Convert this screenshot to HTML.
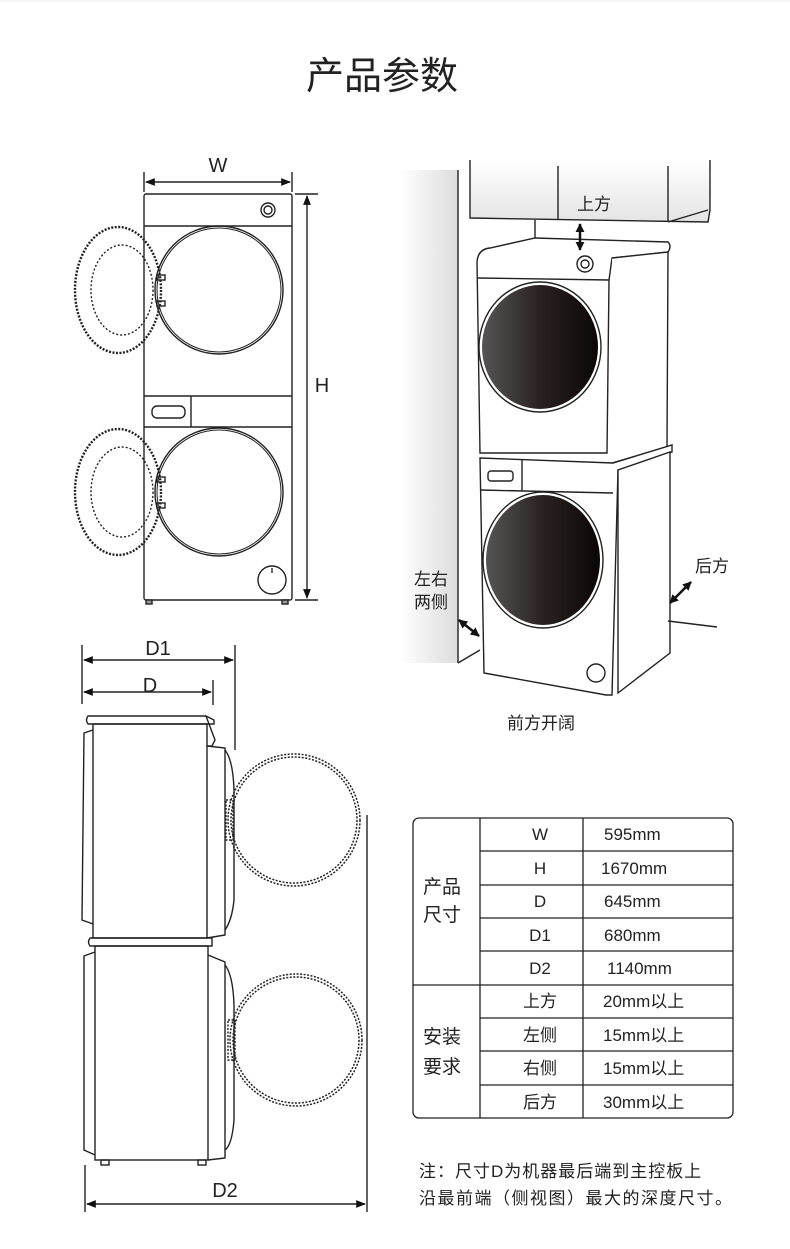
<!DOCTYPE html>
<html><head><meta charset="utf-8"><style>
html,body{margin:0;padding:0;background:#fff;}
body{width:790px;height:1249px;position:relative;overflow:hidden;font-family:"Liberation Sans","Noto Sans CJK SC",sans-serif;}
svg{position:absolute;left:0;top:0;}
text{font-family:"Liberation Sans","Noto Sans CJK SC",sans-serif;fill:#222;}
</style></head><body>
<svg width="790" height="1249" viewBox="0 0 790 1249" xmlns="http://www.w3.org/2000/svg">
<defs>
<marker id="ar" viewBox="0 0 10 10" refX="9" refY="5" markerWidth="7" markerHeight="7" orient="auto-start-reverse"><path d="M0,1 L10,5 L0,9 z" fill="#111"/></marker>
<marker id="ab" viewBox="0 0 10 10" refX="9" refY="5" markerUnits="userSpaceOnUse" markerWidth="9" markerHeight="9" orient="auto-start-reverse"><path d="M0,0 L10,5 L0,10 z" fill="#111"/></marker>
<linearGradient id="dk" x1="0" x2="1"><stop offset="0" stop-color="#555"/><stop offset="0.5" stop-color="#2a2222"/><stop offset="1" stop-color="#0b0606"/></linearGradient>
<linearGradient id="cab" x1="0" y1="0" x2="0" y2="1"><stop offset="0" stop-color="#fff"/><stop offset="1" stop-color="#e4e4e4"/></linearGradient>
<linearGradient id="wall" x1="0" x2="1"><stop offset="0" stop-color="#fff"/><stop offset="1" stop-color="#dcdcdc"/></linearGradient>
</defs>
<line x1="0" y1="1" x2="790" y2="1" stroke="#eee"/>
<text x="382" y="89" font-size="38" text-anchor="middle" fill="#222">产品参数</text>

<!-- FRONT VIEW -->
<g stroke="#222" fill="none" stroke-width="1.4">
<line x1="144" y1="172" x2="144" y2="192"/><line x1="292" y1="172" x2="292" y2="192"/>
<line x1="146" y1="182" x2="290" y2="182" marker-start="url(#ar)" marker-end="url(#ar)"/>
<rect x="144" y="194" width="148" height="406" rx="2"/>
<line x1="144" y1="226" x2="292" y2="226"/>
<circle cx="268" cy="210" r="7"/><circle cx="268" cy="210" r="4"/>
<circle cx="219" cy="290" r="64"/><circle cx="219" cy="290" r="62" stroke-width="1"/>
<ellipse cx="118" cy="290" rx="43" ry="63" stroke-dasharray="2 1.5" stroke-width="2.4"/>
<ellipse cx="122" cy="290" rx="31" ry="45" stroke-dasharray="2 2" stroke-width="1.4"/>
<rect x="157" y="275" width="8" height="5"/><rect x="157" y="301" width="8" height="5"/>
<line x1="144" y1="396" x2="292" y2="396"/><line x1="144" y1="427" x2="292" y2="427"/>
<line x1="191" y1="396" x2="191" y2="427"/>
<rect x="152" y="406" width="33" height="12" rx="5"/>
<circle cx="219" cy="492" r="64"/><circle cx="219" cy="492" r="62" stroke-width="1"/>
<ellipse cx="118" cy="492" rx="43" ry="63" stroke-dasharray="2 1.5" stroke-width="2.4"/>
<ellipse cx="122" cy="492" rx="31" ry="45" stroke-dasharray="2 2" stroke-width="1.4"/>
<rect x="157" y="477" width="8" height="5"/><rect x="157" y="503" width="8" height="5"/>
<circle cx="272" cy="580" r="14"/><line x1="272" y1="568" x2="272" y2="573"/>
<rect x="146" y="600" width="6" height="4" fill="#999"/><rect x="282" y="600" width="6" height="4" fill="#999"/>
<line x1="295" y1="194" x2="318" y2="194"/><line x1="295" y1="600" x2="318" y2="600"/>
<line x1="307" y1="196" x2="307" y2="598" marker-start="url(#ar)" marker-end="url(#ar)"/>
</g>
<text x="218" y="172" font-size="20" text-anchor="middle">W</text>
<text x="322" y="392" font-size="20" text-anchor="middle">H</text>

<!-- PERSPECTIVE VIEW -->
<g stroke="#222" stroke-width="1.4">
<path d="M400,170 L458,170 L458,663 L400,663 z" fill="url(#wall)" stroke="none"/>
<line x1="458" y1="170" x2="458" y2="663"/>
<line x1="458" y1="663" x2="480" y2="650"/>
<path d="M470,160 L470,218 L708,222 L710,210 L710,160" fill="url(#cab)"/>
<line x1="558" y1="166" x2="558" y2="220"/><line x1="668" y1="166" x2="668" y2="222"/>
<line x1="668" y1="222" x2="708" y2="210"/>
<line x1="535" y1="220" x2="535" y2="238"/>
<path d="M477,262 Q478,249 490,248 L535,238 L668,242 Q672,246 668,252 L612,258 L609,280 L607,453 L480,453 z" fill="#fff"/>
<path d="M612,258 L668,252 L667,447 L612,463" fill="#fff"/>
<line x1="478" y1="278" x2="609" y2="280"/>
<circle cx="585" cy="264" r="8" fill="#fff"/><circle cx="585" cy="264" r="4" fill="#fff"/>
<ellipse cx="540" cy="347" rx="61" ry="65" fill="#fff"/>
<ellipse cx="540" cy="347" rx="58" ry="62" fill="url(#dk)" stroke="none"/>
<path d="M480,458 L613,463 L672,445 L672,452 L618,470 L612,695 L606,695 L484,673 z" fill="#fff"/>
<path d="M618,470 L670,452 L670,653 L618,693 z" fill="#fff"/>
<line x1="480" y1="490" x2="613" y2="493"/><line x1="522" y1="459" x2="522" y2="491"/>
<rect x="488" y="471" width="25" height="10" rx="3" fill="#fff"/>
<ellipse cx="543" cy="560" rx="60" ry="68" fill="#fff"/>
<ellipse cx="543" cy="560" rx="57" ry="65" fill="url(#dk)" stroke="none"/>
<circle cx="596" cy="673" r="9" fill="#fff"/>
<line x1="668" y1="621" x2="717" y2="627"/>
</g>
<g stroke="#111" stroke-width="2.5" fill="none">
<line x1="580" y1="224" x2="580" y2="250" marker-start="url(#ab)" marker-end="url(#ab)"/>
<line x1="459" y1="620" x2="479" y2="636" marker-start="url(#ab)" marker-end="url(#ab)"/>
<line x1="670" y1="603" x2="691" y2="582" marker-start="url(#ab)" marker-end="url(#ab)"/>
</g>
<text x="594" y="210" font-size="17" text-anchor="middle">上方</text>
<text x="431" y="585" font-size="17" text-anchor="middle">左右</text>
<text x="431" y="608" font-size="17" text-anchor="middle">两侧</text>
<text x="712" y="572" font-size="17" text-anchor="middle">后方</text>
<text x="541" y="729" font-size="17" text-anchor="middle">前方开阔</text>

<!-- SIDE VIEW -->
<g stroke="#222" stroke-width="1.4" fill="none">
<line x1="82" y1="645" x2="82" y2="704"/><line x1="235" y1="645" x2="235" y2="750"/><line x1="213" y1="680" x2="213" y2="705"/>
<line x1="84" y1="660" x2="233" y2="660" marker-start="url(#ar)" marker-end="url(#ar)"/>
<line x1="84" y1="692" x2="211" y2="692" marker-start="url(#ar)" marker-end="url(#ar)"/>
<path d="M88,716 L206,716 L214,720 L214,724 L88,724 Q85,720 88,716 z"/>
<path d="M206,716 L215,740 L212,746 L207,746"/>
<rect x="93" y="724" width="114" height="214"/>
<path d="M93,730 L84,733 L82,920 L93,924"/>
<path d="M207,746 L225,748 L225,935 L207,938"/>
<path d="M225,750 Q233,760 234,790 L234,900 Q232,920 225,930"/>
<path d="M90,938 L212,938 L212,946 L90,946 Q87,942 90,938 z"/>
<rect x="95" y="946" width="113" height="214"/>
<path d="M95,952 L84,956 L84,1150 L95,1155"/>
<path d="M208,955 L225,962 L225,1158 L208,1160"/>
<path d="M225,965 Q233,975 234,1005 L234,1120 Q232,1145 225,1150"/>
<rect x="101" y="1160" width="8" height="5"/><rect x="198" y="1160" width="8" height="5"/>
<circle cx="294" cy="820" r="66" stroke-dasharray="2 1.5" stroke-width="1.5"/>
<circle cx="294" cy="820" r="63" stroke-dasharray="2 1.5" stroke-width="1.5"/>
<circle cx="296" cy="1040" r="66" stroke-dasharray="2 1.5" stroke-width="1.5"/>
<circle cx="296" cy="1040" r="63" stroke-dasharray="2 1.5" stroke-width="1.5"/>
<rect x="226" y="800" width="7" height="40" stroke-dasharray="2 1.5"/>
<rect x="228" y="1020" width="7" height="40" stroke-dasharray="2 1.5"/>
<line x1="85" y1="1165" x2="85" y2="1212"/><line x1="367" y1="815" x2="367" y2="1212"/>
<line x1="87" y1="1204" x2="365" y2="1204" marker-start="url(#ar)" marker-end="url(#ar)"/>
</g>
<text x="158" y="655" font-size="20" text-anchor="middle">D1</text>
<text x="150" y="692" font-size="20" text-anchor="middle">D</text>
<text x="225" y="1197" font-size="20" text-anchor="middle">D2</text>

<!-- TABLE -->
<g stroke="#222" stroke-width="1.3" fill="none">
<rect x="413" y="818" width="320" height="300" rx="6"/>
<line x1="480" y1="818" x2="480" y2="1118"/><line x1="583" y1="818" x2="583" y2="1118"/>
<line x1="480" y1="851" x2="733" y2="851"/><line x1="480" y1="885" x2="733" y2="885"/>
<line x1="480" y1="918" x2="733" y2="918"/><line x1="480" y1="951" x2="733" y2="951"/>
<line x1="413" y1="985" x2="733" y2="985"/>
<line x1="480" y1="1018" x2="733" y2="1018"/><line x1="480" y1="1051" x2="733" y2="1051"/>
<line x1="480" y1="1085" x2="733" y2="1085"/>
</g>
<g font-size="17">
<text x="442" y="893" font-size="19" text-anchor="middle">产品</text>
<text x="442" y="921" font-size="19" text-anchor="middle">尺寸</text>
<text x="442" y="1043" font-size="19" text-anchor="middle">安装</text>
<text x="442" y="1073" font-size="19" text-anchor="middle">要求</text>
<text x="540" y="840" text-anchor="middle">W</text>
<text x="540" y="874" text-anchor="middle">H</text>
<text x="540" y="907" text-anchor="middle">D</text>
<text x="540" y="941" text-anchor="middle">D1</text>
<text x="540" y="974" text-anchor="middle">D2</text>
<text x="540" y="1007" text-anchor="middle">上方</text>
<text x="540" y="1041" text-anchor="middle">左侧</text>
<text x="540" y="1074" text-anchor="middle">右侧</text>
<text x="540" y="1108" text-anchor="middle">后方</text>
<text x="604" y="840">595mm</text>
<text x="601" y="874">1670mm</text>
<text x="604" y="907">645mm</text>
<text x="604" y="941">680mm</text>
<text x="607" y="974">1140mm</text>
<text x="603" y="1007">20mm以上</text>
<text x="603" y="1041">15mm以上</text>
<text x="603" y="1074">15mm以上</text>
<text x="603" y="1108">30mm以上</text>
</g>
<text x="419" y="1177" font-size="17" letter-spacing="1">注：尺寸D为机器最后端到主控板上</text>
<text x="419" y="1204" font-size="17" letter-spacing="1.5">沿最前端（侧视图）最大的深度尺寸。</text>
</svg>
</body></html>
